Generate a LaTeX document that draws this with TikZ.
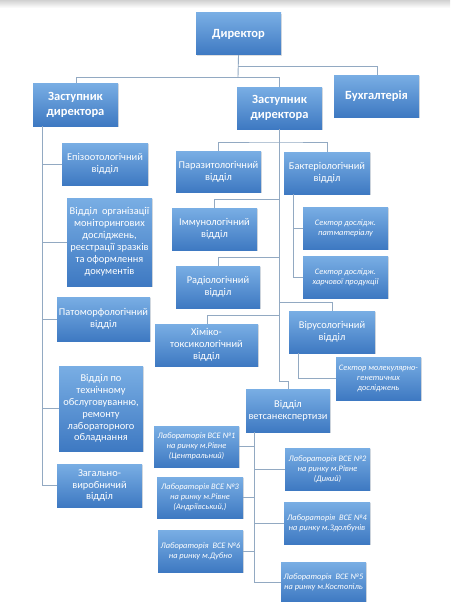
\documentclass[tikz,border=0pt]{standalone}
\usepackage{fontspec}
\setmainfont{Carlito}
\usetikzlibrary{shadows}
\tikzset{
  box/.style={draw=none, top color=boxtop, bottom color=boxbot, text=white,
    align=center, inner sep=1pt, font=\fontsize{10.4}{11.9}\selectfont,
    drop shadow={shadow xshift=1pt, shadow yshift=-1.2pt, opacity=0.25}},
  head/.style={box, font=\bfseries\fontsize{12.5}{15}\selectfont},
  ital/.style={box, font=\itshape\fontsize{8.4}{10.2}\selectfont},
  conn/.style={draw=lineclr, line width=0.9pt}
}
\definecolor{boxtop}{HTML}{79AEE4}
\definecolor{boxbot}{HTML}{3E79C2}
\definecolor{lineclr}{HTML}{92A9C2}
% \bx{name}{style}{x1}{y1}{x2}{y2}{text}
\newcommand{\bx}[7]{%
  \pgfmathsetmacro{\cx}{(#3+#5)/2}\pgfmathsetmacro{\cy}{(#4+#6)/2}%
  \pgfmathsetmacro{\ww}{#5-#3}\pgfmathsetmacro{\hh}{#6-#4}%
  \node[#2, minimum width=\ww pt, minimum height=\hh pt] (#1) at (\cx,\cy) {#7};}
\begin{document}
\begin{tikzpicture}[x=1pt,y=-1pt]
\useasboundingbox (0,0) rectangle (450,602);
\fill[white] (0,0) rectangle (450,602);
\shade[top color=black!18, bottom color=white] (0,0) rectangle (450,8);

% connectors
\coordinate (d1) at (238,66);
\coordinate (d2) at (238,77);
\coordinate (bk) at (377,66);
\coordinate (lz) at (76,77);
\coordinate (mz) at (279,77);

\bx{dir}{head}{196}{13}{281}{55}{Директор}
\bx{zl}{head}{33}{83}{118}{126}{Заступник\\директора}
\bx{zm}{head}{237}{87}{322}{129}{Заступник\\директора}
\bx{bu}{head}{334}{75}{419}{117}{Бухгалтерія}

\draw[conn] (dir.south) -- (d2);
\draw[conn] (d1) -- (bk) -- (bu.north -| bk);
\draw[conn] (lz) -- (mz);
\draw[conn] (lz) -- (zl.north -| lz);
\draw[conn] (mz) -- (zm.north -| mz);

% left column
\bx{epi}{box}{62}{143}{148}{185}{Епізоотологічний\\відділ}
\bx{org}{box}{67}{198}{152}{286}{Відділ \ організації\\моніторингових\\досліджень,\\реєстрації зразків\\та оформлення\\документів}
\bx{pat}{box}{57}{297}{150}{341}{Патоморфологічний\\відділ}
\bx{tex}{box}{59}{366}{143}{451}{Відділ по\\технічному\\обслуговуванню,\\ремонту\\лабораторного\\обладнання}
\bx{zag}{box}{57}{464}{142}{507}{Загально-\\виробничий\\відділ}

\coordinate (lt) at (42,126);
\coordinate (lb) at (42,485);
\draw[conn] (lt) -- (lb);
\foreach \n in {epi,org,pat,tex,zag}{\draw[conn] (\n.west) -- (\n.west -| lt);}

% middle column
\bx{par}{box}{176}{151}{261}{192}{Паразитологічний\\відділ}
\bx{bak}{box}{284}{152}{370}{194}{Бактеріологічний\\відділ}
\bx{imm}{box}{172}{208}{257}{250}{Іммунологічний\\відділ}
\bx{rad}{box}{176}{266}{260}{308}{Радіологічний\\відділ}
\bx{vir}{box}{289}{311}{375}{353}{Вірусологічний\\відділ}
\bx{khi}{box}{155}{324}{258}{366}{Хіміко-\\токсикологічний\\відділ}
\bx{ves}{box}{246}{389}{330}{432}{Відділ\\ветсанекспертизи}

\bx{s1}{ital}{303}{207}{388}{249}{Сектор дослідж.\\патматеріалу}
\bx{s2}{ital}{303}{256}{388}{298}{Сектор дослідж.\\харчової продукції}
\bx{s3}{ital}{336}{357}{421}{400}{Сектор молекулярно-\\генетичних\\досліджень}

\coordinate (mt) at (279,129);
\coordinate (mb) at (279,381);
\draw[conn] (zm.south -| mt) -- (mb) -- (mb -| ves.north) -- (ves.north);
\coordinate (hp) at (279,142);
\draw[conn] (par.north) |- (hp) -| (bak.north);
\coordinate (hi) at (279,199);
\draw[conn] (imm.north) |- (hi);
\coordinate (hr) at (279,257);
\draw[conn] (rad.north) |- (hr);
\coordinate (hv) at (279,302);
\draw[conn] (hv) -| (vir.north);
\coordinate (hk) at (279,315);
\draw[conn] (khi.north -| 207,0) |- (hk);

\coordinate (bt) at (293,194);
\draw[conn] (bt) |- (s2.west);
\draw[conn] (s1.west) -- (s1.west -| bt);
\coordinate (vt) at (298,353);
\draw[conn] (vt) |- (s3.west);

% labs
\bx{l1}{ital}{154}{426}{239}{467}{Лабораторія ВСЕ №1\\на ринку м.Рівне\\(Центральний)}
\bx{l3}{ital}{157}{477}{243}{518}{Лабораторія ВСЕ №3\\на ринку м.Рівне\\(Андріївський,)}
\bx{l6}{ital}{158}{530}{243}{572}{Лабораторія \ ВСЕ №6\\на ринку м.Дубно}
\bx{l2}{ital}{285}{448}{370}{490}{Лабораторія ВСЕ №2\\на ринку м.Рівне\\(Дикий)}
\bx{l4}{ital}{284}{502}{370}{544}{Лабораторія \ ВСЕ №4\\на ринку м.Здолбунів}
\bx{l5}{ital}{281}{562}{366}{602}{Лабораторія \ ВСЕ №5\\на ринку м.Костопіль}

\coordinate (vb) at (254,432);
\coordinate (vbb) at (254,583);
\draw[conn] (vb) -- (vbb);
\foreach \n in {l1,l3,l6}{\draw[conn] (\n.east) -- (\n.east -| vb);}
\foreach \n in {l2,l4,l5}{\draw[conn] (\n.west) -- (\n.west -| vb);}
\end{tikzpicture}
\end{document}
